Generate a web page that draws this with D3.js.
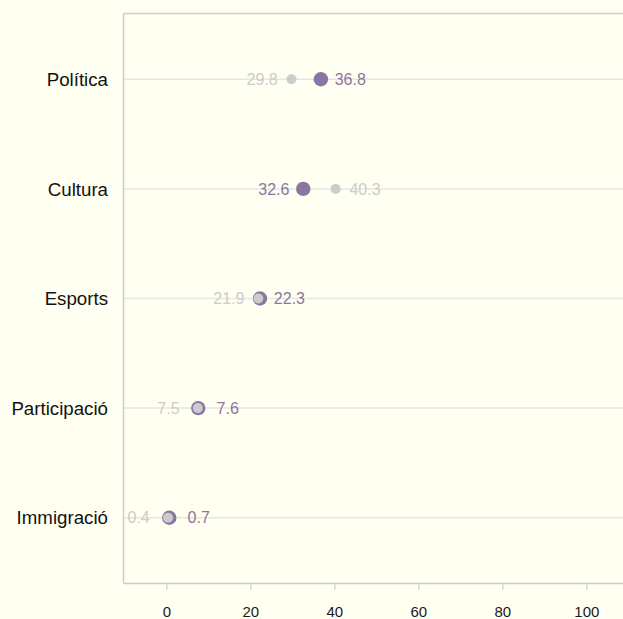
<!DOCTYPE html>
<html><head><meta charset="utf-8">
<script src="https://cdn.jsdelivr.net/npm/d3@7"></script>
<style>
html,body{margin:0;padding:0;background:#fffff2;}
svg{display:block;font-family:"Liberation Sans",Arial,Helvetica,sans-serif;}
</style></head>
<body>
<svg id="chart" width="623" height="619"></svg>
<script>
const categories = ["Política","Cultura","Esports","Participació","Immigració"];
const previous = [29.8, 40.3, 21.9, 7.5, 0.4];
const current = [36.8, 32.6, 22.3, 7.6, 0.7];
const xTicks = [0, 20, 40, 60, 80, 100];

const W = 623, H = 619;
const m = {left: 123.5, top: 13.5, bottom: 583.5};
const svg = d3.select("#chart");
svg.append("rect").attr("width", W).attr("height", H).attr("fill", "#fffff2");

const x = d3.scaleLinear().domain([-10.2, 109.8]).range([m.left, m.left + 120 * 4.2]);
const y = d3.scalePoint().domain(categories).range([m.top, m.bottom]).padding(0.6);

const purple = "#8a76a0", gray = "#cccccc";

// gridlines
svg.append("g").selectAll("line").data(categories).join("line")
  .attr("x1", m.left).attr("x2", W)
  .attr("y1", d => y(d)).attr("y2", d => y(d))
  .attr("stroke", "#e6e6e0").attr("stroke-width", 1.5);

// frame
svg.append("line").attr("x1", m.left).attr("x2", m.left).attr("y1", m.top).attr("y2", m.bottom)
  .attr("stroke", "#cccccc").attr("stroke-width", 1.5);
svg.append("line").attr("x1", m.left).attr("x2", W).attr("y1", m.top).attr("y2", m.top)
  .attr("stroke", "#cccccc").attr("stroke-width", 1.5);
svg.append("line").attr("x1", m.left).attr("x2", W).attr("y1", m.bottom).attr("y2", m.bottom)
  .attr("stroke", "#cccccc").attr("stroke-width", 1.5);

// x axis
const xAxis = svg.append("g").attr("transform", `translate(0,${m.bottom})`)
  .call(d3.axisBottom(x).tickValues(xTicks).tickSize(6).tickPadding(16.5).tickFormat(d3.format("d")));
xAxis.select(".domain").remove();
xAxis.selectAll(".tick line").attr("stroke", "#cccccc").attr("stroke-width", 1.2);
xAxis.selectAll(".tick text").attr("fill", "#1a1a1a").attr("font-size", 15)
  .attr("font-family", "Liberation Sans, Arial, sans-serif");

// y labels
svg.append("g").selectAll("text").data(categories).join("text")
  .attr("x", 108).attr("y", d => y(d)).attr("dy", "0.36em")
  .attr("text-anchor", "end").attr("font-size", 18.7).attr("fill", "#111111")
  .text(d => d);

const rows = categories.map((c, i) => ({c, p: previous[i], v: current[i]}));

// current (purple) big dots
svg.append("g").selectAll("circle").data(rows).join("circle")
  .attr("cx", d => x(d.v)).attr("cy", d => y(d.c)).attr("r", 7.2)
  .attr("fill", purple);
// previous (gray) small dots on top
svg.append("g").selectAll("circle").data(rows).join("circle")
  .attr("cx", d => x(d.p)).attr("cy", d => y(d.c)).attr("r", 5)
  .attr("fill", gray);

const off = 29.4;
// previous labels
svg.append("g").selectAll("text").data(rows).join("text")
  .attr("x", d => d.p > d.v ? x(d.p) + off : x(d.p) - off)
  .attr("text-anchor", "middle")
  .attr("y", d => y(d.c)).attr("dy", "0.36em")
  .attr("font-size", 16).attr("fill", gray)
  .text(d => d3.format(".1f")(d.p));
// current labels
svg.append("g").selectAll("text").data(rows).join("text")
  .attr("x", d => d.v >= d.p ? x(d.v) + off : x(d.v) - off)
  .attr("text-anchor", "middle")
  .attr("y", d => y(d.c)).attr("dy", "0.36em")
  .attr("font-size", 16).attr("fill", purple)
  .text(d => d3.format(".1f")(d.v));
</script>
</body></html>
